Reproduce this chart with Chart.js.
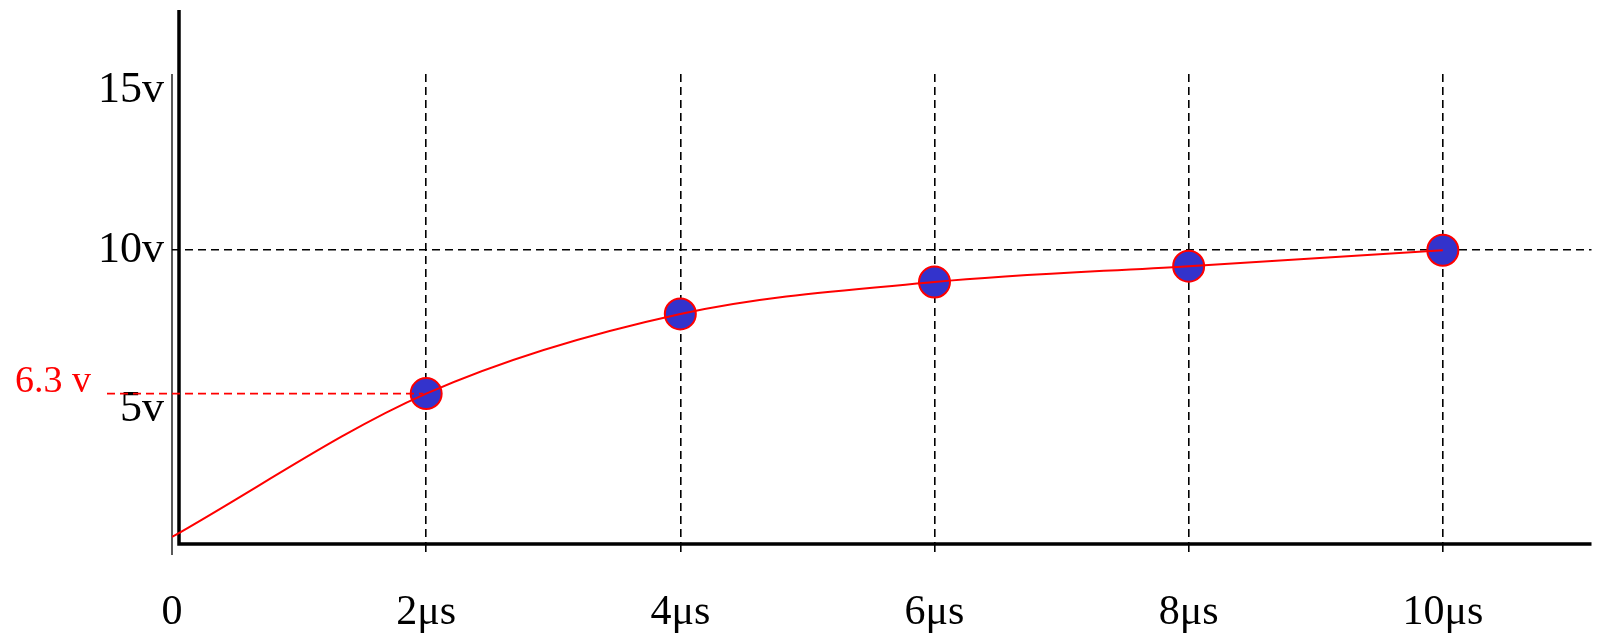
<!DOCTYPE html>
<html>
<head>
<meta charset="utf-8">
<script src="https://cdn.jsdelivr.net/npm/chart.js@4.4.0/dist/chart.umd.min.js"></script>
<style>
  html, body { margin: 0; padding: 0; background: #fff; }
  #wrap { width: 1609px; height: 633px; }
</style>
</head>
<body>
<div id="wrap"><canvas id="chart"></canvas></div>
<script>
// time in microseconds, voltage in volts
const curveTimes = [0, 2, 4, 6, 8, 10];
const curveVolts = [1.0, 5.5, 8.0, 9.0, 9.5, 10.0];
const markerTimes = [2, 4, 6, 8, 10];
const markerVolts = [5.5, 8.0, 9.0, 9.5, 10.0];
const xTicks = [0, 2, 4, 6, 8, 10];
const yTicks = [5, 10, 15];
const refVolt = 10;
const markTime = 2;
const markVolt = 5.5;
const markLabel = "6.3 v";
const xMax = 11.17;
const yMin = 0.78;
const yMax = 15.53;

const serif = "'Liberation Serif', 'DejaVu Serif', serif";

const axesPlugin = {
    id: "axes",
    beforeDatasetsDraw(chart) {
        const { ctx, chartArea: a } = chart;
        ctx.save();
        ctx.strokeStyle = "#000";
        // thin line at t = 0
        ctx.lineWidth = 1.3;
        ctx.beginPath();
        ctx.moveTo(a.left, a.top);
        ctx.lineTo(a.left, a.bottom + 11);
        ctx.stroke();
        // thick axes
        ctx.lineWidth = 3.5;
        ctx.beginPath();
        ctx.moveTo(a.left + 7, 10);
        ctx.lineTo(a.left + 7, a.bottom);
        ctx.lineTo(a.right, a.bottom);
        ctx.stroke();
        ctx.restore();
    },
    afterDatasetsDraw(chart) {
        const { ctx, chartArea: a, scales } = chart;
        const y = scales.y.getPixelForValue(markVolt);
        const x1 = scales.x.getPixelForValue(markTime);
        const x0 = a.left - 65;
        ctx.save();
        ctx.strokeStyle = "#ff0000";
        ctx.lineWidth = 1.6;
        ctx.setLineDash([8, 5]);
        ctx.beginPath();
        ctx.moveTo(x0, y);
        ctx.lineTo(x1 - 3, y);
        ctx.stroke();
        ctx.setLineDash([]);
        ctx.fillStyle = "#ff0000";
        ctx.font = "38px " + serif;
        ctx.textAlign = "right";
        ctx.textBaseline = "alphabetic";
        ctx.fillText(markLabel, x0 - 16, y - 2);
        ctx.restore();
    }
};

const ctx = document.getElementById("chart").getContext("2d");
new Chart(ctx, {
    type: "scatter",
    data: {
        datasets: [{
            data: curveTimes.map((t, i) => ({ x: t, y: curveVolts[i] })),
            showLine: true,
            borderColor: "#ff0000",
            borderWidth: 2,
            pointRadius: 0,
            cubicInterpolationMode: "monotone",
            fill: false,
            order: 0,
        }, {
            data: markerTimes.map((t, i) => ({ x: t, y: markerVolts[i] })),
            showLine: false,
            pointRadius: 15.5,
            pointBackgroundColor: "#3333cc",
            pointBorderColor: "#ff0000",
            pointBorderWidth: 2,
            order: 1,
        }]
    },
    options: {
        responsive: true,
        maintainAspectRatio: false,
        animation: false,
        layout: { padding: { top: 74, right: 7, bottom: 0, left: 0 } },
        plugins: {
            legend: { display: false },
            tooltip: { enabled: false },
        },
        scales: {
            x: {
                type: "linear",
                min: 0,
                max: xMax,
                afterBuildTicks: s => { s.ticks = xTicks.map(v => ({ value: v })); },
                afterFit: s => { s.height = 89; },
                border: { display: false, dash: [8, 5] },
                grid: {
                    color: c => (c.tick && c.tick.value === 0) ? "rgba(0,0,0,0)" : "#000",
                    lineWidth: 1.6,
                    tickBorderDash: [8, 5],
                    tickLength: 9,
                },
                ticks: {
                    color: "#000",
                    font: { family: serif, size: 42 },
                    padding: 35,
                    maxRotation: 0,
                    callback: v => v === 0 ? "0" : v + "μs",
                }
            },
            y: {
                type: "linear",
                min: yMin,
                max: yMax,
                afterBuildTicks: s => { s.ticks = yTicks.map(v => ({ value: v })); },
                afterFit: s => { s.width = 172; },
                border: { display: false, dash: [8, 5] },
                grid: {
                    color: c => (c.tick && c.tick.value === refVolt) ? "#000" : "rgba(0,0,0,0)",
                    lineWidth: 1.6,
                    drawTicks: false,
                },
                ticks: {
                    color: "#000",
                    font: { family: serif, size: 44 },
                    padding: 8,
                    callback: v => v + "v",
                }
            }
        }
    },
    plugins: [axesPlugin]
});
</script>
</body>
</html>
